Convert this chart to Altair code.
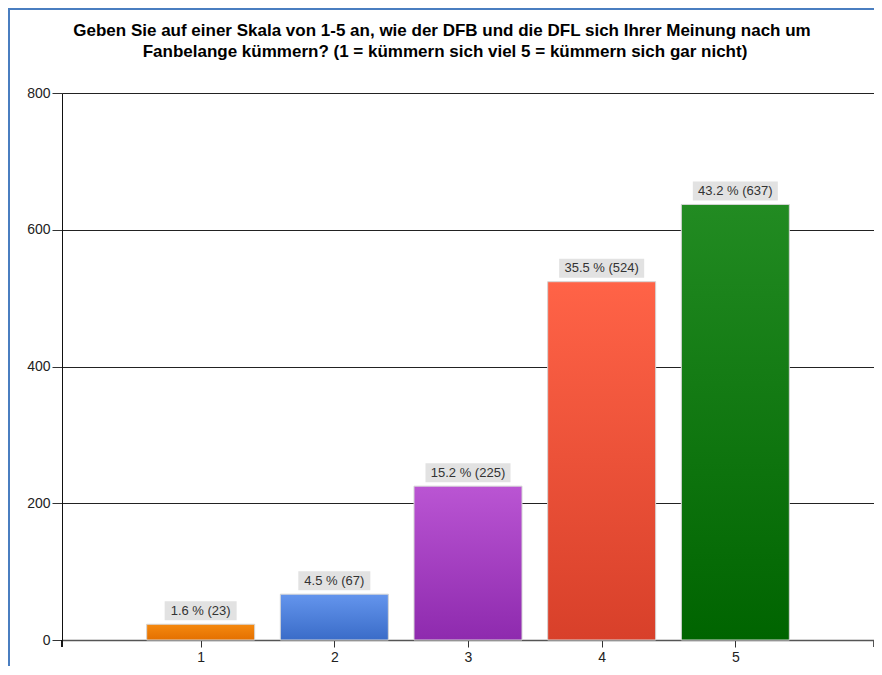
import altair as alt
import pandas as pd

categories = [1, 2, 3, 4, 5]
counts = [23, 67, 225, 524, 637]
percents = [1.6, 4.5, 15.2, 35.5, 43.2]
y_ticks = [0, 200, 400, 600, 800]

top_colors = ["#F5890F", "#6495ED", "#BA55D3", "#FF6347", "#228B22"]
bottom_colors = ["#E47000", "#3A6CC8", "#8E2AAE", "#D8402A", "#006400"]

title_lines = [
    "Geben Sie auf einer Skala von 1-5 an, wie der DFB und die DFL sich Ihrer Meinung nach um",
    "Fanbelange kümmern? (1 = kümmern sich viel 5 = kümmern sich gar nicht)",
]

df = pd.DataFrame({"cat": categories, "count": counts, "pct": percents})
df["label"] = [f"{p:.1f} % ({c})" for p, c in zip(percents, counts)]
title_df = pd.DataFrame({"line": title_lines, "idx": [0, 1]})

W, H = 812, 547
PL, PT, PR, PB = 54, 85, 0, 26
x_scale = alt.Scale(domain=[0, 6], nice=False, zero=False)
y_scale = alt.Scale(domain=[0, 800], nice=False)

base = alt.Chart(df)

x_enc = alt.X("cat:Q", scale=x_scale,
              axis=alt.Axis(values=categories, title=None, grid=False, format="d",
                            domainColor="#555555", domainWidth=1.5, tickColor="#333333",
                            tickSize=7, labelFontSize=14, labelColor="#222222",
                            labelPadding=3, labelFont="Liberation Sans"))
y_enc = alt.Y("count:Q", scale=y_scale,
              axis=alt.Axis(values=y_ticks, title=None, grid=True, gridColor="#222222",
                            gridWidth=1, domainColor="#111111", tickColor="#333333",
                            tickSize=10, labelFontSize=14, labelColor="#222222",
                            labelPadding=2, labelFont="Liberation Sans"))

layers = []
for i, cat in enumerate(categories):
    grad = alt.Gradient(
        gradient="linear", x1=0, x2=0, y1=0, y2=1,
        stops=[alt.GradientStop(color=top_colors[i], offset=0),
               alt.GradientStop(color=bottom_colors[i], offset=1)],
    )
    bar = base.transform_filter(alt.datum.cat == cat).mark_bar(
        size=108, fill=grad, stroke="#D5D5D5", strokeWidth=1
    ).encode(
        x=x_enc if i == 0 else alt.X("cat:Q", scale=x_scale),
        y=y_enc if i == 0 else alt.Y("count:Q", scale=y_scale),
    )
    layers.append(bar)

box = base.transform_calculate(
    w="length(datum.label) * 6.5 + 7"
).mark_bar(color="#E2E2E2", yOffset=-4, y2Offset=-23).encode(
    x=alt.X("cat:Q", scale=x_scale),
    y=alt.Y("count:Q", scale=y_scale),
    y2="count:Q",
    size=alt.Size("w:Q", scale=None, legend=None),
)

txt = base.mark_text(fontSize=13, color="#333333", font="Liberation Sans",
                     baseline="middle", dy=-13.5).encode(
    x=alt.X("cat:Q", scale=x_scale),
    y=alt.Y("count:Q", scale=y_scale),
    text="label:N",
)

title1 = alt.Chart(title_df).transform_filter(alt.datum.idx == 0).mark_text(
    fontSize=17, fontWeight="bold", font="Liberation Sans", color="#000000",
    align="center", baseline="middle"
).encode(x=alt.value(380), y=alt.value(-62), text="line:N")
title2 = alt.Chart(title_df).transform_filter(alt.datum.idx == 1).mark_text(
    fontSize=17, fontWeight="bold", font="Liberation Sans", color="#000000",
    align="center", baseline="middle"
).encode(x=alt.value(383), y=alt.value(-41), text="line:N")

yext = alt.Chart(df).mark_rule(color="#111111").encode(
    x=alt.value(0), y=alt.value(H), y2=alt.value(H + 7))
xend = alt.Chart(df).mark_rule(color="#555555", strokeWidth=1.5).encode(
    x=alt.value(W), y=alt.value(H), y2=alt.value(H + 7))
frame_l = alt.Chart(df).mark_rule(color="#4A7EC0", strokeWidth=2).encode(
    x=alt.value(-53), y=alt.value(-85), y2=alt.value(H + PB))
frame_t = alt.Chart(df).mark_rule(color="#4A7EC0", strokeWidth=2).encode(
    x=alt.value(-54), x2=alt.value(W + PR), y=alt.value(-84))

chart = alt.layer(*layers, box, txt, title1, title2, yext, xend, frame_l, frame_t).properties(
    width=W, height=H,
    autosize=alt.AutoSizeParams(type="none"),
    padding={"left": PL, "top": PT, "right": PR, "bottom": PB},
).configure_view(stroke=None).configure(background="white")

chart.save("out.html", embed_options={"renderer": "svg", "actions": False})
